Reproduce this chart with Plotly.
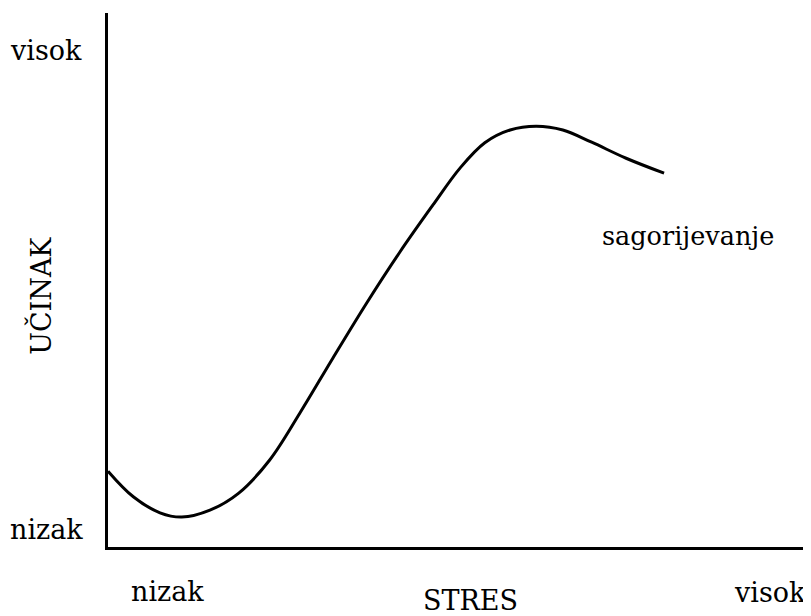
import plotly.graph_objects as go

# Curve (stress 0-100, performance 0-100)
stress = [0.0, 3.6, 7.4, 10.5, 14.5, 18.6, 23.0, 27.3, 32.0, 36.8, 41.5, 46.2, 50.1,
          53.6, 57.2, 60.9, 64.7, 68.8, 73.7, 79.1]
performance = [14.2, 9.4, 6.4, 5.6, 6.9, 10.1, 16.3, 25.1, 35.4, 45.7, 55.2, 64.0, 71.0,
               75.7, 78.1, 78.8, 78.1, 75.8, 72.8, 70.0]

y_labels = ["visok", "nizak"]
x_labels = ["nizak", "visok"]
x_title = "STRES"
y_title = "UČINAK"
curve_label = "sagorijevanje"

FONT = "DejaVu Serif"
SIZE = 27

fig = go.Figure()
fig.add_trace(go.Scatter(x=stress, y=performance, mode="lines",
                         line=dict(color="black", width=3, shape="spline", smoothing=1.0),
                         hoverinfo="skip", showlegend=False))

ann = []
def add(text, x, y, angle=0, size=SIZE):
    ann.append(dict(text=text, x=x, y=y, xref="paper", yref="paper", showarrow=False,
                    xanchor="center", yanchor="middle", textangle=angle,
                    font=dict(family=FONT, size=size, color="black")))

add(y_labels[0], -0.088, 0.929)
add(y_labels[1], -0.088, 0.032)
add(y_title, -0.097, 0.47, -90)
add(x_labels[0], 0.085, -0.084)
add(x_title, 0.515, -0.101)
add(x_labels[1], 0.942, -0.086)
add(curve_label, 0.825, 0.582, size=25.5)

# page body has an 8px margin, so the figure is sized to fit the window
fig.update_layout(
    width=803, height=608,
    margin=dict(l=100, r=0, t=5, b=69),
    paper_bgcolor="white", plot_bgcolor="white",
    font=dict(family=FONT, size=SIZE, color="black"),
    annotations=ann,
    xaxis=dict(range=[0, 100], showline=True, linecolor="black", linewidth=3,
               showgrid=False, zeroline=False, showticklabels=False, ticks=""),
    yaxis=dict(range=[0, 100], showline=True, linecolor="black", linewidth=3,
               showgrid=False, zeroline=False, showticklabels=False, ticks=""),
)

fig.write_html("out.html")
